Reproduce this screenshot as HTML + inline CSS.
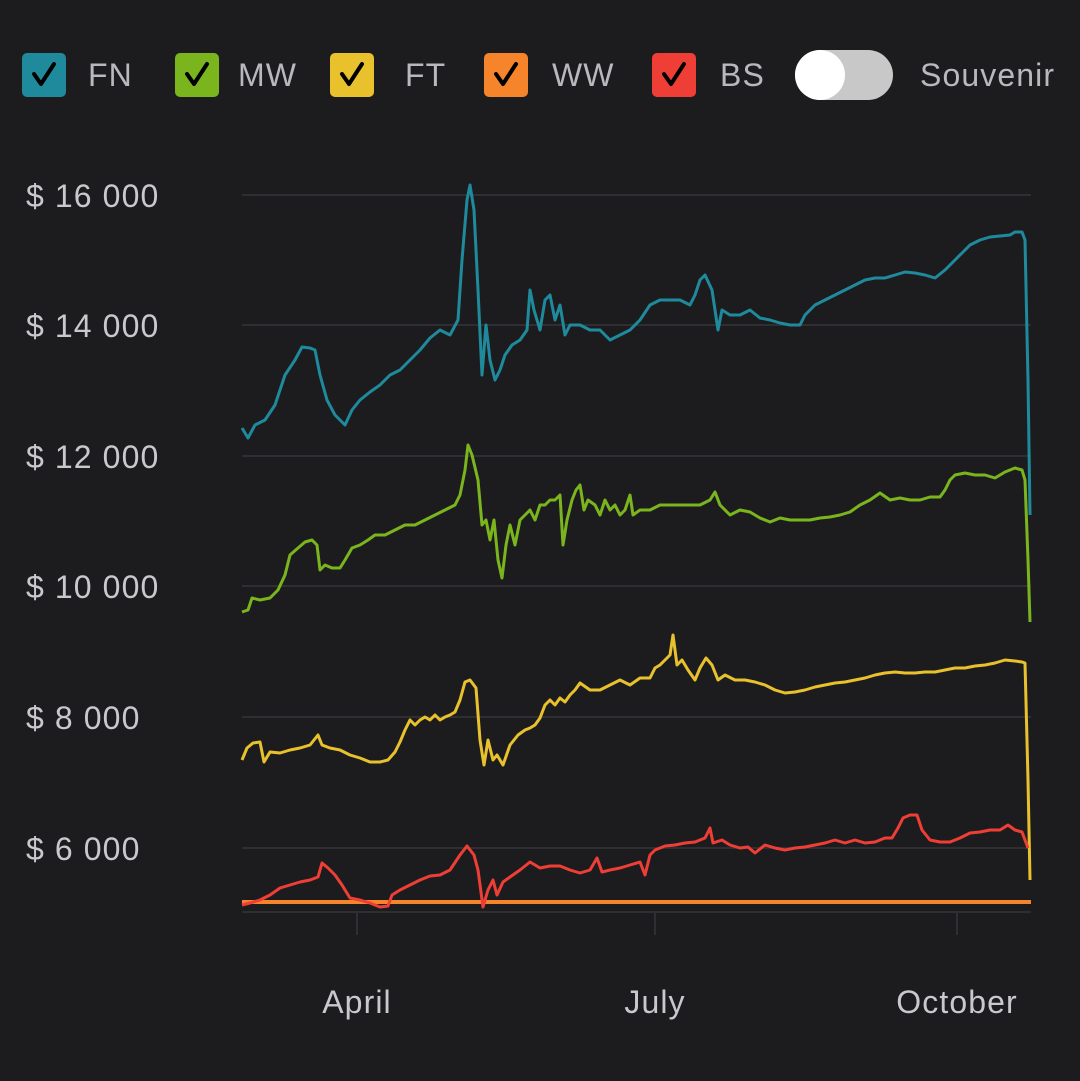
<!DOCTYPE html>
<html><head><meta charset="utf-8"><style>
html,body{margin:0;padding:0;background:#1c1c1f;}
body{width:1080px;height:1076px;overflow:hidden;font-family:"Liberation Sans",sans-serif;}
</style></head><body>
<svg width="1080" height="1076" viewBox="0 0 1080 1076" xmlns="http://www.w3.org/2000/svg" font-family="Liberation Sans, sans-serif">
<rect width="1080" height="1076" fill="#1c1c1f"/>
<g stroke="#000" stroke-width="4" fill="none" stroke-linecap="round" stroke-linejoin="round">
<rect x="22" y="53" width="44" height="44" rx="5" fill="#1e8a9c" stroke="none"/>
<polyline points="34,74 41,84 54,64"/>
<rect x="175" y="53" width="44" height="44" rx="5" fill="#7ab51d" stroke="none"/>
<polyline points="187,74 194,84 207,64"/>
<rect x="330" y="53" width="44" height="44" rx="5" fill="#e8c12c" stroke="none"/>
<polyline points="342,74 349,84 362,64"/>
<rect x="484" y="53" width="44" height="44" rx="5" fill="#f5842a" stroke="none"/>
<polyline points="496,74 503,84 516,64"/>
<rect x="652" y="53" width="44" height="44" rx="5" fill="#ef3e36" stroke="none"/>
<polyline points="664,74 671,84 684,64"/>
</g>
<g fill="#b8b8bd" font-size="32" letter-spacing="1.1">
<text x="88" y="86">FN</text>
<text x="238" y="86">MW</text>
<text x="405" y="86">FT</text>
<text x="552" y="86">WW</text>
<text x="720" y="86">BS</text>
<text x="920" y="86">Souvenir</text>
</g>
<rect x="795" y="50" width="98" height="50" rx="25" fill="#c8c8c8"/>
<circle cx="820" cy="75" r="25" fill="#fff"/>
<g stroke="#2f2f33" stroke-width="2">
<line x1="242" y1="195" x2="1031" y2="195"/>
<line x1="242" y1="325" x2="1031" y2="325"/>
<line x1="242" y1="456" x2="1031" y2="456"/>
<line x1="242" y1="586" x2="1031" y2="586"/>
<line x1="242" y1="717" x2="1031" y2="717"/>
<line x1="242" y1="848" x2="1031" y2="848"/>
<line x1="242" y1="912" x2="1031" y2="912"/>
<line x1="357" y1="912" x2="357" y2="935"/>
<line x1="655" y1="912" x2="655" y2="935"/>
<line x1="957" y1="912" x2="957" y2="935"/>
</g>
<g fill="#c9c9cd" font-size="32" letter-spacing="1.1">
<text x="26" y="207">$ 16 000</text>
<text x="26" y="337">$ 14 000</text>
<text x="26" y="468">$ 12 000</text>
<text x="26" y="598">$ 10 000</text>
<text x="26" y="729">$ 8 000</text>
<text x="26" y="860">$ 6 000</text>
<text x="357" y="1013" text-anchor="middle">April</text>
<text x="655" y="1013" text-anchor="middle">July</text>
<text x="957" y="1013" text-anchor="middle">October</text>
</g>
<g fill="none" stroke-width="3" stroke-linejoin="round">
<line x1="242" y1="902" x2="1031" y2="902" stroke="#f5842a" stroke-width="4"/>
<polyline stroke="#1e8a9c" points="242,428 248,438 255,425 265,420 275,405 285,375 295,360 302,347 310,348 315,350 320,375 327,400 335,415 345,425 352,410 360,400 370,392 380,385 390,375 400,370 410,360 420,350 430,338 440,330 450,335 458,320 462,260 467,200 470,185 474,210 478,290 482,375 486,325 490,360 495,380 500,370 505,355 512,345 520,340 527,330 530,290 534,310 540,330 545,300 550,295 555,320 560,305 565,335 570,325 580,325 590,330 600,330 610,340 620,335 630,330 640,320 650,305 660,300 670,300 680,300 690,305 695,295 700,280 705,275 712,290 718,330 722,310 730,315 740,315 750,310 760,318 770,320 780,323 790,325 800,325 805,315 815,305 825,300 835,295 845,290 855,285 865,280 875,278 885,278 895,275 905,272 915,273 925,275 935,278 945,270 950,265 960,255 970,245 980,240 990,237 1000,236 1010,235 1015,232 1022,232 1025,240 1028,380 1030,515"/>
<polyline stroke="#7ab51d" points="242,612 248,610 252,598 260,600 270,598 278,590 285,575 290,555 298,548 305,542 312,540 317,545 320,570 325,565 332,568 340,568 345,560 352,548 360,545 368,540 375,535 385,535 395,530 405,525 415,525 425,520 435,515 445,510 455,505 460,495 465,470 468,445 472,455 478,480 482,525 486,520 490,540 494,520 498,560 502,578 506,545 510,525 515,545 520,520 525,515 530,510 535,520 540,505 545,505 550,500 555,500 560,495 563,545 567,520 572,500 576,490 580,485 584,510 588,500 595,505 600,515 605,500 610,510 615,505 620,515 625,510 630,495 633,515 640,510 650,510 660,505 670,505 680,505 690,505 700,505 710,500 715,492 720,505 730,515 740,510 750,512 760,518 770,522 780,518 790,520 800,520 810,520 820,518 830,517 840,515 850,512 860,505 870,500 880,493 890,500 900,498 910,500 920,500 930,497 940,497 945,490 950,480 955,475 965,473 975,475 985,475 995,478 1005,472 1015,468 1022,470 1025,480 1028,560 1030,622"/>
<polyline stroke="#e8c12c" points="242,760 247,748 253,743 260,742 264,762 270,752 280,753 290,750 300,748 310,745 318,735 322,745 330,748 340,750 350,755 360,758 370,762 380,762 388,760 395,752 400,742 405,730 410,720 415,725 420,720 425,717 430,720 435,715 440,720 445,717 450,715 455,712 460,700 465,682 470,680 476,688 480,740 484,765 488,740 493,760 497,755 503,765 510,745 518,735 525,730 530,728 535,725 540,718 545,705 550,700 555,705 560,698 565,702 570,695 575,690 580,683 590,690 600,690 610,685 620,680 630,685 640,678 650,678 655,668 660,665 665,660 670,655 673,635 677,665 682,660 688,670 695,680 700,668 706,658 712,665 718,680 725,675 735,680 745,680 755,682 765,685 775,690 785,693 795,692 805,690 815,687 825,685 835,683 845,682 855,680 865,678 875,675 885,673 895,672 905,673 915,673 925,672 935,672 945,670 955,668 965,668 975,666 985,665 995,663 1005,660 1015,661 1022,662 1025,663 1028,780 1030,880"/>
<polyline stroke="#ef3e36" points="242,905 250,903 260,900 270,895 280,888 290,885 300,882 310,880 318,877 322,863 328,868 335,875 342,885 350,898 360,900 370,903 380,907 388,906 392,895 400,890 410,885 420,880 430,876 440,875 450,870 460,855 467,846 474,855 478,870 483,907 488,890 493,880 497,895 503,882 510,877 520,870 530,862 540,868 550,866 560,866 570,870 580,873 590,870 597,858 602,872 610,870 620,868 630,865 640,862 645,875 650,855 655,850 665,846 675,845 685,843 695,842 705,838 710,828 713,843 722,840 730,845 740,848 748,847 755,853 765,845 775,848 785,850 795,848 805,847 815,845 825,843 835,840 845,843 855,840 865,843 875,842 885,838 892,838 898,828 903,818 910,815 917,815 922,830 930,840 940,842 950,842 960,838 970,833 980,832 990,830 1000,830 1008,825 1015,830 1022,832 1025,840 1028,848"/>
</g>
</svg>
</body></html>
